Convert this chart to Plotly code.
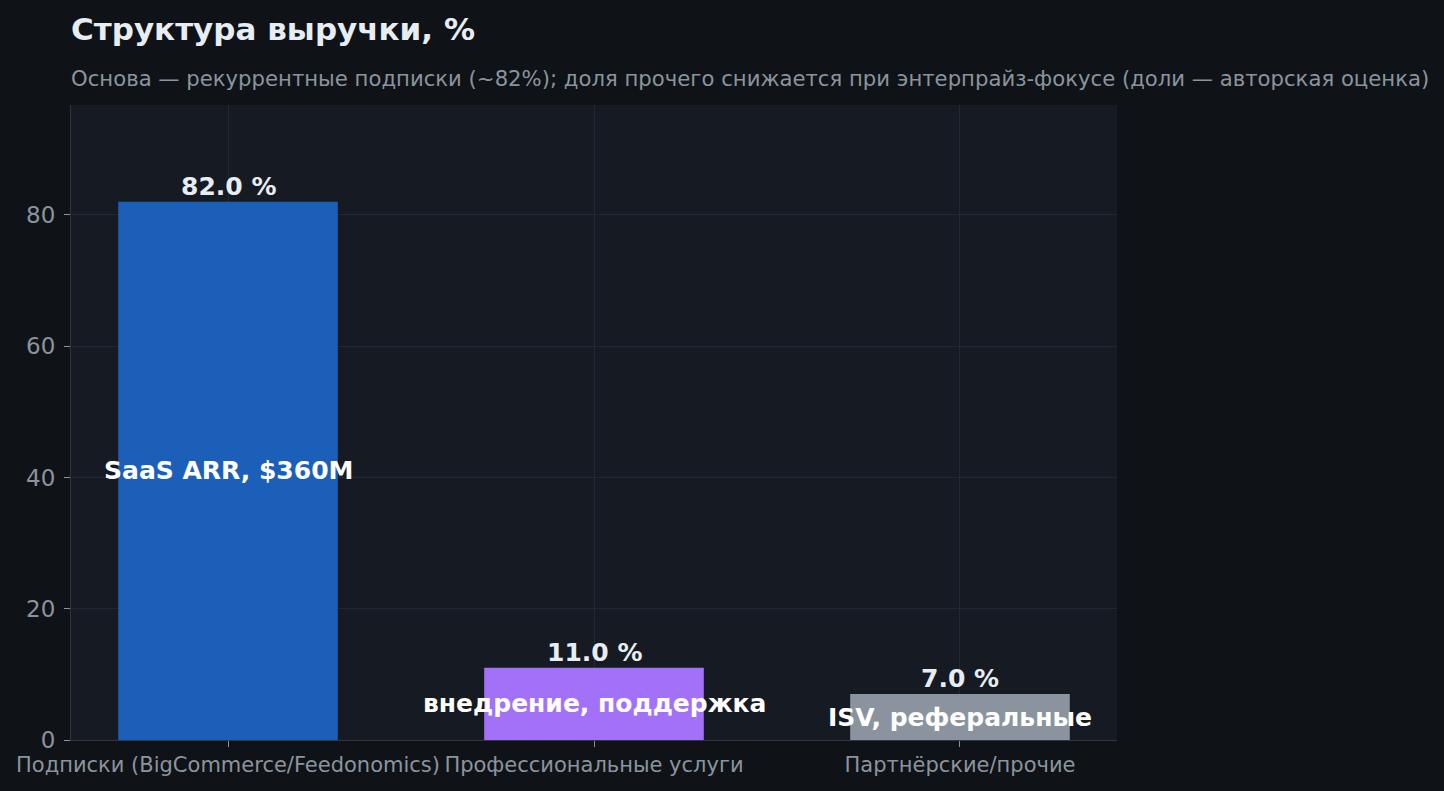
import plotly.graph_objects as go

# revenue mix, % (author's estimate)
categories = ["Подписки (BigCommerce/Feedonomics)", "Профессиональные услуги", "Партнёрские/прочие"]
shares = [82.0, 11.0, 7.0]
inner_labels = ["SaaS ARR, $360M", "внедрение, поддержка", "ISV, реферальные"]
bar_colors = ["#1c5fb8", "#a371f7", "#8b949e"]

fig = go.Figure()
fig.add_trace(go.Bar(
    x=categories, y=shares,
    marker=dict(color=bar_colors, line=dict(width=0)),
    hoverinfo="skip",
))

for cat, v, lab in zip(categories, shares, inner_labels):
    # value above the bar
    fig.add_annotation(x=cat, y=v, yanchor="bottom", yshift=-1, showarrow=False,
                       text="<b>{:.1f} %</b>".format(v),
                       font=dict(family="DejaVu Sans", size=25, color="#e6edf3"))
    # label in the middle of the bar
    fig.add_annotation(x=cat, y=v / 2, text="<b>" + lab + "</b>", showarrow=False,
                       font=dict(family="DejaVu Sans", size=25, color="#ffffff"))

# subtitle
fig.add_annotation(xref="paper", yref="paper", x=0, y=1 + 27 / 635, xanchor="left", yanchor="middle",
                   xshift=-2,
                   text="Основа — рекуррентные подписки (~82%); доля прочего снижается при энтерпрайз-фокусе (доли — авторская оценка)",
                   showarrow=False, font=dict(family="DejaVu Sans", size=21.2, color="#8b949e"))

fig.update_layout(
    width=1444, height=791,
    paper_bgcolor="#0f1317", plot_bgcolor="#161a22",
    margin=dict(l=71, r=327, t=105, b=51),
    bargap=0.4,
    showlegend=False,
    font=dict(family="DejaVu Sans", color="#8b949e"),
    title=dict(
        text="<b>Структура выручки, %</b>",
        xref="paper", x=0, xanchor="left",
        yref="container", y=1 - 29 / 791, yanchor="middle",
        font=dict(family="DejaVu Sans", size=31, color="#e6edf3"),
    ),
)
fig.update_xaxes(range=[-0.429, 2.429], showgrid=True, gridcolor="#222732", linecolor="#30363d",
                 ticks="outside", tickcolor="#8b949e", ticklen=6, tickangle=0,
                 tickfont=dict(size=21, color="#8b949e"))
fig.update_yaxes(range=[0, 96.76], showgrid=True, gridcolor="#222732", linecolor="#30363d",
                 showline=True, ticks="outside", tickcolor="#8b949e", ticklen=6,
                 tickvals=[0, 20, 40, 60, 80], zeroline=False, ticklabelstandoff=4,
                 tickfont=dict(size=23, color="#8b949e"))

fig.write_html("out.html", config={"displayModeBar": False},
               post_script="document.body.style.margin='0';")
